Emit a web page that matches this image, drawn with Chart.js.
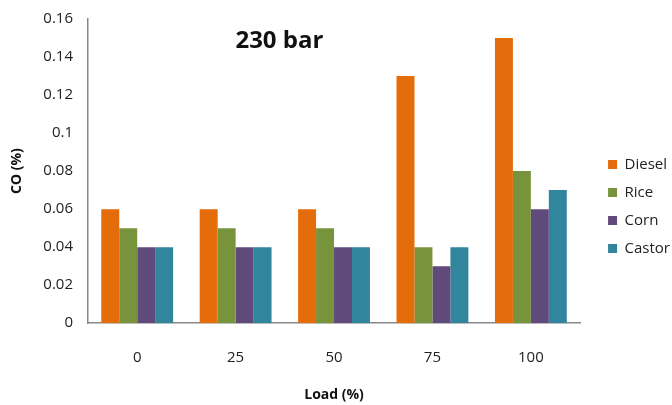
<!DOCTYPE html>
<html>
<head>
<meta charset="utf-8">
<script src="https://cdn.jsdelivr.net/npm/chart.js@4/dist/chart.umd.min.js"></script>
<style>
  html, body { margin: 0; padding: 0; background: #fff; }
  #wrap { width: 672px; height: 405px; }
</style>
</head>
<body>
<div id="wrap"><canvas id="myChart" width="672" height="405"></canvas></div>
<script>
'use strict';

// load levels on the x axis
const loads = ['0', '25', '50', '75', '100'];

// CO (%) per fuel
const diesel = [0.06, 0.06, 0.06, 0.13, 0.15];
const rice = [0.05, 0.05, 0.05, 0.04, 0.08];
const corn = [0.04, 0.04, 0.04, 0.03, 0.06];
const castor = [0.04, 0.04, 0.04, 0.04, 0.07];

const chartTitle = '230 bar';

const fontFam = "'Open Sans', 'Liberation Sans', sans-serif";

// draws the "230 bar" text inside the plot
const innerTitle = {
  id: 'innerTitle',
  afterDraw(chart) {
    const ctx = chart.ctx;
    const area = chart.chartArea;
    ctx.save();
    ctx.font = 'bold 24px ' + fontFam;
    ctx.fillStyle = '#111';
    ctx.textAlign = 'center';
    ctx.textBaseline = 'middle';
    ctx.fillText(chartTitle, area.left + area.width * 0.389, area.top + 22);
    ctx.restore();
  }
};

const ctx = document.getElementById('myChart').getContext('2d');
window.chart = new Chart(ctx, {
  type: 'bar',
  data: {
    labels: loads,
    datasets: [
      { label: 'Diesel', data: diesel, backgroundColor: '#E46C0A' },
      { label: 'Rice', data: rice, backgroundColor: '#77933C' },
      { label: 'Corn', data: corn, backgroundColor: '#604A7B' },
      { label: 'Castor', data: castor, backgroundColor: '#31859C' }
    ]
  },
  options: {
    responsive: false,
    animation: false,
    layout: { padding: { top: 10, right: -8, left: 0, bottom: 2 } },
    datasets: {
      bar: { categoryPercentage: 0.73, barPercentage: 1.0 }
    },
    plugins: {
      legend: {
        position: 'right',
        labels: {
          boxWidth: 9,
          boxHeight: 9,
          padding: 13,
          color: '#222',
          font: { family: fontFam, size: 15 }
        }
      },
      tooltip: { enabled: false }
    },
    scales: {
      x: {
        grid: { display: false, drawTicks: false },
        border: { color: '#888', width: 1.5 },
        ticks: { color: '#222', padding: 26, font: { family: fontFam, size: 15 } },
        title: {
          display: true,
          text: 'Load (%)',
          color: '#111',
          padding: { top: -7, bottom: 0 },
          font: { family: fontFam, size: 14, weight: 'bold' }
        }
      },
      y: {
        min: 0,
        max: 0.16,
        afterFit: s => { s.width = 88; },
        grid: { display: false, drawTicks: true, tickLength: 5, tickColor: '#888' },
        border: { color: '#888', width: 1.5 },
        ticks: {
          stepSize: 0.02,
          color: '#222',
          padding: 10,
          font: { family: fontFam, size: 15 },
          callback: v => String(Math.round(v * 100) / 100)
        },
        title: {
          display: true,
          text: 'CO (%)',
          color: '#111',
          padding: { top: 9, bottom: 8 },
          font: { family: fontFam, size: 14, weight: 'bold' }
        }
      },
      // empty axis on the right, only keeps a gap before the legend
      gap: {
        position: 'right',
        afterFit: s => { s.width = 15; },
        grid: { display: false },
        border: { display: false },
        ticks: { display: false }
      }
    }
  },
  plugins: [innerTitle]
});
</script>
</body>
</html>
